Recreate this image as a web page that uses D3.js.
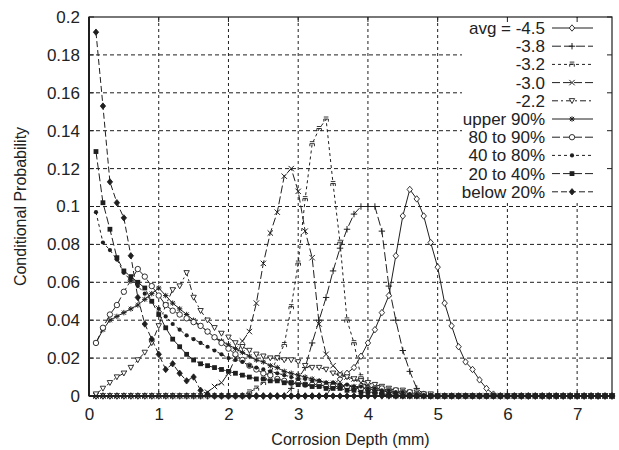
<!DOCTYPE html>
<html><head><meta charset="utf-8">
<script src="https://cdn.jsdelivr.net/npm/d3@7"></script>
<style>
html,body{margin:0;padding:0;background:#fff;}
svg{display:block;font-family:"Liberation Sans",Arial,sans-serif;}
</style></head>
<body><svg id="c" width="619" height="450"></svg>
<script>
// ---- data ----
const depth = [0.1,0.2,0.3,0.4,0.5,0.6,0.7,0.8,0.9,1.0,
 1.1,1.2,1.3,1.4,1.5,1.6,1.7,1.8,1.9,2.0,
 2.1,2.2,2.3,2.4,2.5,2.6,2.7,2.8,2.9,3.0,
 3.1,3.2,3.3,3.4,3.5,3.6,3.7,3.8,3.9,4.0,
 4.1,4.2,4.3,4.4,4.5,4.6,4.7,4.8,4.9,5.0,
 5.1,5.2,5.3,5.4,5.5,5.6,5.7,5.8,5.9,6.0,
 6.1,6.2,6.3,6.4,6.5,6.6,6.7,6.8,6.9,7.0,
 7.1,7.2,7.3,7.4,7.5];

const seriesNames = ["avg = -4.5","-3.8","-3.2","-3.0","-2.2","upper 90%","80 to 90%","40 to 80%","20 to 40%","below 20%"];

const avg45 = [0,0,0,0,0,0,0,0,0,0, 0,0,0,0,0,0,0,0,0,0, 0,0,0,0,0,0,0,0,0,0, 0,0,0,0,
 0.006,0.009,0.012,0.015,0.021,0.028,0.035,0.044,0.053,0.074,
 0.095,0.109,0.104,0.095,0.081,0.068,0.049,0.037,0.026,0.018,
 0.014,0.0085,0.004,0.001,
 0,0,0,0,0,0,0,0,0,0, 0,0,0,0,0,0,0];
const avg38 = [0,0,0,0,0,0,0,0,0,0, 0,0,0,0,0,0,0,0,0,0, 0,0,0,0,0,0,0,0,
 0.004,0.009,0.015,0.028,0.04,0.052,0.066,0.078,0.088,0.096,
 0.1,0.1,0.1,0.087,0.058,0.04,0.024,0.013,0.004,0.001,
 0,0,0,0,0,0,0,0,0,0, 0,0,0,0,0,0,0,0,0,0, 0,0,0,0,0,0,0];
const avg32 = [0,0,0,0,0,0,0,0,0,0, 0,0,0,0,0,0,0,0,0,0, 0,0,
 0.002,0.004,0.007,0.012,0.02,0.027,0.047,0.07,0.104,0.133,
 0.141,0.146,0.112,0.081,0.04,0.028,0.01,0.004,0.002,0.001,
 0,0,0,0,0,0,0,0,0,0, 0,0,0,0,0,0,0,0,0,0, 0,0,0,0,0,0,0,0,0,0, 0,0,0];
const avg30 = [0,0,0,0,0,0,0,0,0,0, 0,0,0,0,0,0,
 0.002,0.005,0.007,0.012,0.02,0.029,0.034,0.049,0.07,0.086,
 0.097,0.116,0.12,0.108,0.087,0.073,0.038,0.022,0.016,0.012,
 0.01,0.009,0.007,0.005,0.004,0.003,0.002,0.001,
 0,0,0,0,0,0,0,0,0,0, 0,0,0,0,0,0,0,0,0,0, 0,0,0,0,0,0,0,0,0,0, 0];
const avg22 = [0.001,0.004,0.007,0.01,0.012,0.015,0.019,0.023,0.028,0.037,
 0.048,0.056,0.058,0.065,0.052,0.045,0.04,0.036,0.033,0.031,
 0.028,0.026,0.024,0.022,0.021,0.02,0.02,0.019,0.019,0.018,
 0.016,0.015,0.015,0.014,0.012,0.011,0.01,0.009,0.008,0.007,
 0.006,0.005,0.004,0.003,0.003,0.002,0.002,0.001,0.001,
 0,0,0,0,0,0,0,0,0,0, 0,0,0,0,0,0,0,0,0,0, 0,0,0,0,0,0];
const upper90 = [0.028,0.035,0.04,0.042,0.044,0.046,0.048,0.051,0.054,0.057,
 0.053,0.049,0.046,0.043,0.04,0.037,0.034,0.031,0.029,0.027,
 0.025,0.023,0.021,0.019,0.018,0.016,0.015,0.013,0.012,0.011,
 0.01,0.009,0.008,0.007,0.007,0.006,0.005,0.005,0.004,0.004,
 0.003,0.003,0.002,0.002,0.001,0.001,
 0,0,0,0,0,0,0,0,0,0, 0,0,0,0,0,0,0,0,0,0, 0,0,0,0,0,0,0,0,0];
const p80to90 = [0.028,0.036,0.043,0.048,0.055,0.061,0.067,0.063,0.058,0.053,
 0.048,0.045,0.043,0.041,0.039,0.037,0.034,0.031,0.028,0.025,
 0.022,0.019,0.016,0.014,0.012,0.011,0.009,0.008,0.007,0.007,
 0.006,0.006,0.006,0.005,0.005,0.005,0.005,0.004,0.004,0.004,
 0.004,0.004,0.003,0.003,0.002,0.002,0.001,0.001,
 0,0,0,0,0,0,0,0,0,0, 0,0,0,0,0,0,0,0,0,0, 0,0,0,0,0,0,0];
const p40to80 = [0.097,0.081,0.077,0.072,0.065,0.061,0.058,0.054,0.05,0.046,
 0.042,0.038,0.035,0.032,0.03,0.028,0.026,0.024,0.022,0.02,
 0.019,0.018,0.016,0.015,0.014,0.013,0.012,0.011,0.01,0.009,
 0.009,0.008,0.008,0.007,0.007,0.006,0.006,0.005,0.005,0.004,
 0.004,0.003,0.003,0.002,0.002,0.001,0.001,
 0,0,0,0,0,0,0,0,0,0, 0,0,0,0,0,0,0,0,0,0, 0,0,0,0,0,0,0,0];
const p20to40 = [0.129,0.102,0.088,0.073,0.066,0.063,0.06,0.057,0.05,0.043,
 0.036,0.03,0.026,0.022,0.019,0.017,0.016,0.015,0.014,0.013,
 0.012,0.011,0.01,0.009,0.009,0.008,0.008,0.007,0.007,0.006,
 0.006,0.005,0.005,0.004,0.004,0.004,0.003,0.003,0.002,0.002,
 0.002,0.001,0.001,
 0,0,0,0,0,0,0,0,0,0, 0,0,0,0,0,0,0,0,0,0, 0,0,0,0,0,0,0,0,0,0, 0,0];
const below20 = [0.192,0.153,0.113,0.102,0.094,0.074,0.052,0.038,0.03,0.022,
 0.014,0.017,0.012,0.008,0.01,0.003,0.001,
 0,0,0,0,0,0,0,0,0,0, 0,0,0,0,0,0,0,0,0,0, 0,0,0,0,0,0,0,0,0,0,
 0,0,0,0,0,0,0,0,0,0, 0,0,0,0,0,0,0,0,0,0, 0,0,0,0,0,0,0,0];

const xTicks = [0,1,2,3,4,5,6,7];
const xTickLabels = ["0","1","2","3","4","5","6","7"];
const yTicks = [0,0.02,0.04,0.06,0.08,0.1,0.12,0.14,0.16,0.18,0.2];
const yTickLabels = ["0","0.02","0.04","0.06","0.08","0.1","0.12","0.14","0.16","0.18","0.2"];

// ---- styles per series ----
const seriesValues = [avg45,avg38,avg32,avg30,avg22,upper90,p80to90,p40to80,p20to40,below20];
const dashes = [null,"9,3","3,3","8,3","6,3,2,3",null,"8,3","3,3","8,3","6,3"];
const markers = ["diamondOpen","plus","hat","cross","triDown","asterisk","circleOpen","dot","square","diamond"];

const ink = "#1f1f1f";
const svg = d3.select("#c");
const L=89, R=612, T=17, B=396;
const x = d3.scaleLinear().domain([0,7.5]).range([L,R]);
const y = d3.scaleLinear().domain([0,0.2]).range([B,T]);

// grid
const grid = svg.append("g");
grid.selectAll("line.h").data(yTicks.slice(1,-1)).join("line")
  .attr("x1",L).attr("x2",R).attr("y1",d=>y(d)).attr("y2",d=>y(d))
  .attr("stroke",ink).attr("stroke-width",1).attr("stroke-dasharray","4,3");
grid.selectAll("line.v").data(xTicks.slice(1)).join("line")
  .attr("y1",T).attr("y2",B).attr("x1",d=>x(d)).attr("x2",d=>x(d))
  .attr("stroke",ink).attr("stroke-width",1).attr("stroke-dasharray","3,3");

// legend background (hides grid)
const legX0 = 462, legY0 = T+1, legW = R-462-1, legH = 183;
svg.append("rect").attr("x",legX0).attr("y",legY0).attr("width",legW).attr("height",legH).attr("fill","#fff");

// frame ticks
const tk = svg.append("g").attr("stroke",ink).attr("stroke-width",1);
yTicks.forEach(v=>{
  tk.append("line").attr("x1",L).attr("x2",L+5).attr("y1",y(v)).attr("y2",y(v));
  tk.append("line").attr("x1",R-5).attr("x2",R).attr("y1",y(v)).attr("y2",y(v));
});
xTicks.forEach(v=>{
  tk.append("line").attr("y1",T).attr("y2",T+5).attr("x1",x(v)).attr("x2",x(v));
  tk.append("line").attr("y1",B-5).attr("y2",B).attr("x1",x(v)).attr("x2",x(v));
});

// marker drawing
function marker(g, type){
  const s = 2.7;
  switch(type){
    case "diamondOpen": g.append("path").attr("d",`M0,${-s-0.5}L${s},0L0,${s+0.5}L${-s},0Z`).attr("fill","#fff").attr("stroke",ink).attr("stroke-width",0.9); break;
    case "diamond": g.append("path").attr("d",`M0,${-s-0.5}L${s},0L0,${s+0.5}L${-s},0Z`).attr("fill",ink).attr("stroke",ink).attr("stroke-width",0.8); break;
    case "plus": g.append("path").attr("d",`M${-s-0.5},0H${s+0.5}M0,${-s-0.5}V${s+0.5}`).attr("stroke",ink).attr("stroke-width",1).attr("fill","none"); break;
    case "cross": g.append("path").attr("d",`M${-s},${-s}L${s},${s}M${-s},${s}L${s},${-s}`).attr("stroke",ink).attr("stroke-width",1).attr("fill","none"); break;
    case "asterisk": g.append("path").attr("d",`M${-s},0H${s}M0,${-s}V${s}M${-s+0.6},${-s+0.6}L${s-0.6},${s-0.6}M${-s+0.6},${s-0.6}L${s-0.6},${-s+0.6}`).attr("stroke",ink).attr("stroke-width",1).attr("fill","none"); break;
    case "hat": g.append("path").attr("d",`M-2.3,2.3L-2.3,-0.3L2.3,-0.3L2.3,2.3M-2.3,-2.3L2.3,-2.3`).attr("stroke",ink).attr("stroke-width",0.9).attr("fill","none"); break;
    case "triDown": g.append("path").attr("d",`M${-s},${-s+0.5}L${s},${-s+0.5}L0,${s}Z`).attr("fill","#fff").attr("stroke",ink).attr("stroke-width",0.9); break;
    case "circleOpen": g.append("circle").attr("r",s).attr("fill","#fff").attr("stroke",ink).attr("stroke-width",0.9); break;
    case "dot": g.append("circle").attr("r",2.1).attr("fill",ink); break;
    case "square": g.append("rect").attr("x",-2.4).attr("y",-2.4).attr("width",4.8).attr("height",4.8).attr("fill",ink); break;
  }
}

// series
const line = d3.line().x(d=>x(d[0])).y(d=>y(d[1]));
const plot = svg.append("g");
seriesValues.forEach((vals,k)=>{
  const pts = vals.map((v,i)=>[depth[i],v]);
  plot.append("path").datum(pts).attr("d",line).attr("fill","none")
    .attr("stroke",ink).attr("stroke-width",1)
    .attr("stroke-dasharray",dashes[k]);
});
seriesValues.forEach((vals,k)=>{
  vals.forEach((v,i)=>{
    const g = plot.append("g").attr("transform",`translate(${x(depth[i])},${y(v)})`);
    marker(g, markers[k]);
  });
});

// frame
svg.append("rect").attr("x",L).attr("y",T).attr("width",R-L).attr("height",B-T)
  .attr("fill","none").attr("stroke",ink).attr("stroke-width",1.2);
svg.append("line").attr("x1",L).attr("x2",L).attr("y1",T).attr("y2",B).attr("stroke",ink).attr("stroke-width",2);
svg.append("line").attr("x1",L).attr("x2",R).attr("y1",B).attr("y2",B).attr("stroke",ink).attr("stroke-width",2);

// axes labels via d3 axes
const xAxis = d3.axisBottom(x).tickValues(xTicks).tickFormat((d,i)=>xTickLabels[i]).tickSize(0).tickPadding(12);
const gx = svg.append("g").attr("transform",`translate(0,${B})`).call(xAxis);
gx.select(".domain").remove();
gx.selectAll("text").attr("font-size",17).attr("fill","#222").attr("font-family","'Liberation Sans',Arial,sans-serif");

const yAxis = d3.axisLeft(y).tickValues(yTicks).tickFormat((d,i)=>yTickLabels[i]).tickSize(0).tickPadding(9);
const gy = svg.append("g").attr("transform",`translate(${L},0)`).call(yAxis);
gy.select(".domain").remove();
gy.selectAll("text").attr("font-size",17).attr("fill","#222").attr("font-family","'Liberation Sans',Arial,sans-serif");

svg.append("text").attr("x",(L+R)/2).attr("y",445).attr("text-anchor","middle")
  .attr("font-size",16).attr("fill","#222").text("Corrosion Depth (mm)");
svg.append("text").attr("transform",`translate(26,${(T+B)/2}) rotate(-90)`).attr("text-anchor","middle")
  .attr("font-size",16).attr("fill","#222").text("Conditional Probability");

// legend
const leg = svg.append("g");
seriesNames.forEach((name,k)=>{
  const cy = 28 + 18.2*k;
  leg.append("text").attr("x",545).attr("y",cy).attr("dy","0.35em").attr("text-anchor","end")
    .attr("font-size",17).attr("fill","#222").text(name);
  leg.append("line").attr("x1",552).attr("x2",593).attr("y1",cy).attr("y2",cy)
    .attr("stroke",ink).attr("stroke-width",1).attr("stroke-dasharray",dashes[k]);
  const g = leg.append("g").attr("transform",`translate(572,${cy})`);
  marker(g, markers[k]);
});
</script></body></html>
